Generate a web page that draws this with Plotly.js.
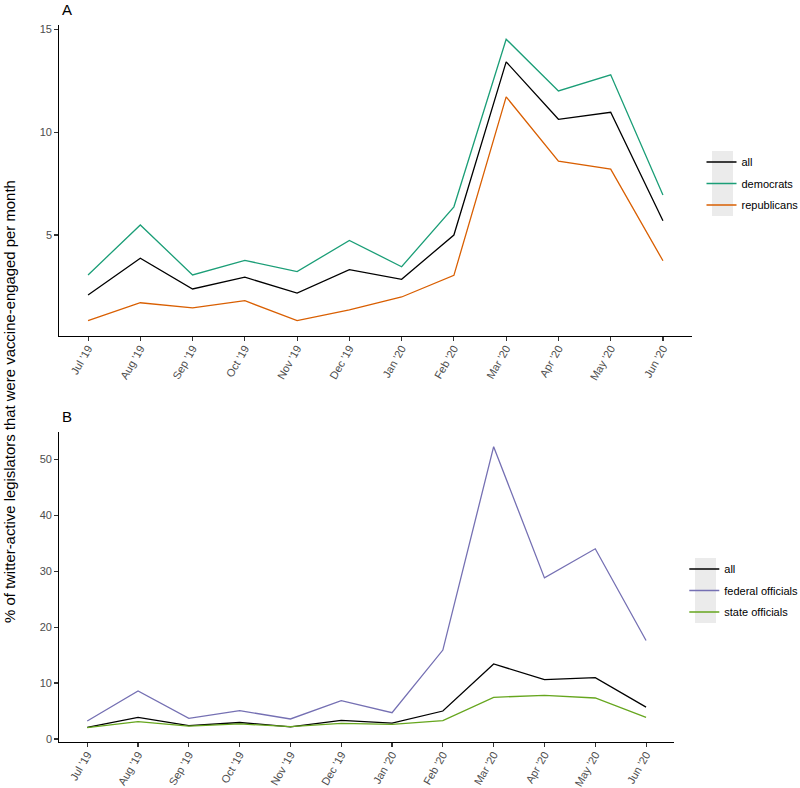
<!DOCTYPE html>
<html>
<head>
<meta charset="utf-8">
<script src="https://cdn.plot.ly/plotly-3.0.1.min.js"></script>
<style>html,body{margin:0;padding:0;background:#fff;}#chart{width:800px;height:788px;}</style>
</head>
<body>
<div id="chart"></div>
<script>
// ---- data ----
const months = ["Jul '19","Aug '19","Sep '19","Oct '19","Nov '19","Dec '19","Jan '20","Feb '20","Mar '20","Apr '20","May '20","Jun '20"];
const allLegislators = [2.09, 3.87, 2.38, 2.95, 2.18, 3.32, 2.85, 5.0, 13.41, 10.62, 10.96, 5.69];
const democrats      = [3.06, 5.49, 3.06, 3.77, 3.22, 4.74, 3.46, 6.37, 14.51, 12.0, 12.78, 6.94];
const republicans    = [0.84, 1.71, 1.46, 1.81, 0.84, 1.36, 1.99, 3.04, 11.71, 8.59, 8.2, 3.75];
const federalOfficials = [3.22, 8.58, 3.70, 5.07, 3.58, 6.85, 4.70, 15.9, 52.25, 28.8, 34.0, 17.6];
const stateOfficials   = [2.03, 3.1, 2.3, 2.7, 2.2, 2.8, 2.6, 3.27, 7.45, 7.8, 7.33, 3.87];
const panelATicks = [5, 10, 15];
const panelBTicks = [0, 10, 20, 30, 40, 50];

const W = 800, H = 788;
const px = v => v / W;
const py = v => 1 - v / H;
const lw = 1.3;
const font = "Liberation Sans, Arial, sans-serif";

function line(y, name, color, xa, ya, leg, grp) {
  return {x: months, y: y, name: name, type: 'scatter', mode: 'lines',
    line: {color: color, width: lw}, xaxis: xa, yaxis: ya, legend: leg, legendgroup: grp,
    hoverinfo: 'skip'};
}

const traces = [
  line(allLegislators, 'all', '#000000', 'x', 'y', 'legend', 'a1'),
  line(democrats, 'democrats', '#1b9e77', 'x', 'y', 'legend', 'a2'),
  line(republicans, 'republicans', '#d95f02', 'x', 'y', 'legend', 'a3'),
  line(allLegislators, 'all', '#000000', 'x2', 'y2', 'legend2', 'b1'),
  line(federalOfficials, 'federal officials', '#7570b3', 'x2', 'y2', 'legend2', 'b2'),
  line(stateOfficials, 'state officials', '#66a61e', 'x2', 'y2', 'legend2', 'b3')
];

const xCommon = {
  type: 'category', categoryorder: 'array', categoryarray: months,
  range: [-0.55, 11.55], showgrid: false, zeroline: false,
  showline: true, linecolor: '#000', linewidth: 1.1,
  ticks: 'outside', ticklen: 4, tickcolor: '#333', tickwidth: 1.1,
  ticklabelstandoff: -3, automargin: false,
  tickangle: -60, tickfont: {family: font, size: 11, color: '#4d4d4d'}
};
const yCommon = {
  showgrid: false, zeroline: false, automargin: false,
  showline: true, linecolor: '#000', linewidth: 1.1,
  ticks: 'outside', ticklen: 4, tickcolor: '#333', tickwidth: 1.1,
  tickfont: {family: font, size: 11, color: '#4d4d4d'}, tickmode: 'array'
};

const layout = {
  width: W, height: H,
  margin: {l: 0, r: 0, t: 0, b: 0, autoexpand: false},
  paper_bgcolor: '#fff', plot_bgcolor: '#fff',
  font: {family: font, size: 11, color: '#000'},
  xaxis: Object.assign({}, xCommon, {domain: [px(59.3), px(691.7)], anchor: 'y'}),
  yaxis: Object.assign({}, yCommon, {domain: [py(335.7), py(25)], range: [0.11, 15.2], tickvals: panelATicks, anchor: 'x'}),
  xaxis2: Object.assign({}, xCommon, {domain: [px(59.3), px(674)], anchor: 'y2'}),
  yaxis2: Object.assign({}, yCommon, {domain: [py(741.8), py(432.4)], range: [-0.5, 54.8], tickvals: panelBTicks, anchor: 'x2'}),
  legend: {x: px(701.5), xanchor: 'left', y: py(147.5), yanchor: 'top', bgcolor: 'rgba(0,0,0,0)',
    traceorder: 'grouped', tracegroupgap: 2.5, font: {family: font, size: 11, color: '#000'}},
  legend2: {x: px(684.3), xanchor: 'left', y: py(554.5), yanchor: 'top', bgcolor: 'rgba(0,0,0,0)',
    traceorder: 'grouped', tracegroupgap: 2.5, font: {family: font, size: 11, color: '#000'}},
  shapes: [
    {type: 'rect', xref: 'paper', yref: 'paper', x0: px(712), x1: px(733), y0: py(216), y1: py(151), fillcolor: '#ebebeb', line: {width: 0}, layer: 'below'},
    {type: 'rect', xref: 'paper', yref: 'paper', x0: px(695), x1: px(716), y0: py(623), y1: py(558), fillcolor: '#ebebeb', line: {width: 0}, layer: 'below'}
  ],
  annotations: [
    {text: 'A', xref: 'paper', yref: 'paper', x: px(59.5), y: py(10), xanchor: 'left', yanchor: 'middle', showarrow: false, font: {family: font, size: 15, color: '#000'}},
    {text: 'B', xref: 'paper', yref: 'paper', x: px(59.5), y: py(416), xanchor: 'left', yanchor: 'middle', showarrow: false, font: {family: font, size: 15, color: '#000'}},
    {text: '% of twitter-active legislators that were vaccine-engaged per month', xref: 'paper', yref: 'paper', x: px(10), y: py(402), xanchor: 'center', yanchor: 'middle', textangle: -90, showarrow: false, font: {family: font, size: 14.9, color: '#000'}}
  ],
  showlegend: true
};

Plotly.newPlot('chart', traces, layout, {displayModeBar: false, staticPlot: true});
</script>
</body>
</html>
